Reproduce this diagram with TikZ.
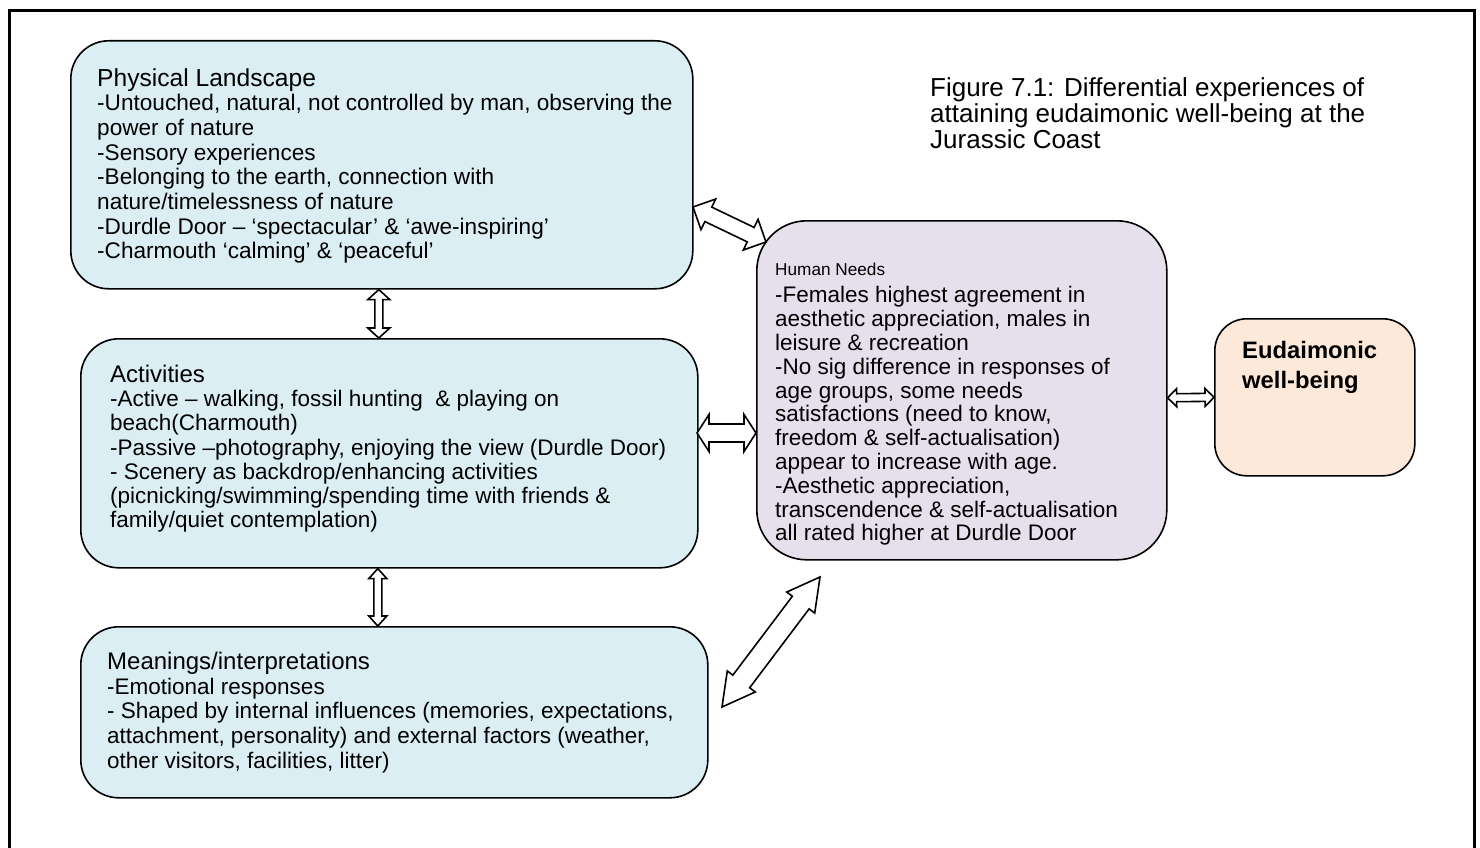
\documentclass[tikz,border=0pt]{standalone}
\usepackage{fontspec}
\setmainfont{Liberation Sans}
\usetikzlibrary{calc}

\definecolor{aquafill}{HTML}{DBEEF4}
\definecolor{lilacfill}{HTML}{E5E0EC}
\definecolor{peachfill}{HTML}{FDE9D9}

\tikzset{
  card/.style={draw=black, line width=1.6pt, rounded corners=#1, inner sep=0pt,
    anchor=north west},
  card/.default=38pt,
  cardtext/.style={anchor=north west, inner sep=0pt, align=left,
    font=\fontsize{22.5}{24.5}\selectfont},
  blockarrow/.style={draw=black, fill=white, line width=1.6pt, line join=miter},
}

% hollow double-headed block arrow between two named points
% #1,#2 ends, #3 shaft half width, #4 head half width, #5 head length
\newcommand\dblblock[5]{%
  \coordinate (hdA) at ($(#1)!#5!(#2)$);
  \coordinate (hdB) at ($(#2)!#5!(#1)$);
  \draw[blockarrow] (#1) -- ($(hdA)!#4!-90:(#2)$) -- ($(hdA)!#3!-90:(#2)$)
    -- ($(hdB)!#3!90:(#1)$) -- ($(hdB)!#4!90:(#1)$) -- (#2)
    -- ($(hdB)!#4!-90:(#1)$) -- ($(hdB)!#3!-90:(#1)$)
    -- ($(hdA)!#3!90:(#2)$) -- ($(hdA)!#4!90:(#2)$) -- cycle;}

\begin{document}
\begin{tikzpicture}[x=1pt, y=-1pt]
\useasboundingbox (0,0) rectangle (1480,848);

% outer frame (open at the bottom)
\draw[line width=3pt] (9.5,848) -- (9.5,11) -- (1474.5,11) -- (1474.5,848);

% boxes
\node[card, fill=aquafill, minimum width=622pt, minimum height=248pt] (pl) at (70,40) {};
\node[card, fill=aquafill, minimum width=617pt, minimum height=229pt] (act) at (80,338) {};
\node[card, fill=aquafill, minimum width=627pt, minimum height=171pt] (mean) at (80,626) {};
\node[card=50pt, fill=lilacfill, minimum width=410pt, minimum height=339pt] (hn) at (756,220) {};
\node[card=32pt, fill=peachfill, minimum width=200pt, minimum height=157pt] (eud) at (1214,318) {};

% box texts
\node[cardtext, font=\fontsize{22.6}{24.7}\selectfont] (plt) at (97,68)
  {{\fontsize{24.6}{24.7}\selectfont Physical Landscape}\\
   -Untouched, natural, not controlled by man, observing the\\
   power of nature\\
   -Sensory experiences\\
   -Belonging to the earth, connection with\\
   nature/timelessness of nature\\
   -Durdle Door – ‘spectacular’ \& ‘awe-inspiring’\\
   -Charmouth ‘calming’ \& ‘peaceful’};

\node[cardtext, font=\fontsize{22.5}{24.2}\selectfont] (actt) at (110,365)
  {{\fontsize{24}{24.2}\selectfont Activities}\\
   -Active – walking, fossil hunting\ \ \& playing on\\
   beach(Charmouth)\\
   -Passive –photography, enjoying the view (Durdle Door)\\
   - Scenery as backdrop/enhancing activities\\
   (picnicking/swimming/spending time with friends \&\\
   family/quiet contemplation)};

\node[cardtext, font=\fontsize{22.5}{24.7}\selectfont] (meant) at (107,652)
  {{\fontsize{24}{24.7}\selectfont Meanings/interpretations}\\
   -Emotional responses\\
   - Shaped by internal influences (memories, expectations,\\
   attachment, personality) and external factors (weather,\\
   other visitors, facilities, litter)};

\node[cardtext, font=\fontsize{22.5}{23.8}\selectfont] (hnt) at (775,263)
  {{\fontsize{17.2}{23.8}\selectfont Human Needs}\\[3.5pt]
   -Females highest agreement in\\
   aesthetic appreciation, males in\\
   leisure \& recreation\\
   -No sig difference in responses of\\
   age groups, some needs\\
   satisfactions (need to know,\\
   freedom \& self-actualisation)\\
   appear to increase with age.\\
   -Aesthetic appreciation,\\
   transcendence \& self-actualisation\\
   all rated higher at Durdle Door};

\node[cardtext, font=\bfseries\fontsize{23.8}{30}\selectfont] (eudt) at (1242,341)
  {Eudaimonic\\well-being};

% caption
\node[cardtext, font=\fontsize{26}{26}\selectfont] (title) at (930,77)
  {Figure 7.1: Differential experiences of\\
   attaining eudaimonic well-being at the\\
   Jurassic Coast};

% arrow end points on the box borders
\coordinate (plE) at (693,207);
\coordinate (hnNW) at (766,242);
\coordinate (plS) at ([xshift=-3pt]pl.south);
\coordinate (actN) at ([xshift=-10.5pt]act.north);
\coordinate (actE) at (697,433);
\coordinate (hnW) at (756,433);
\coordinate (actS) at ([xshift=-11.5pt]act.south);
\coordinate (meanN) at ([xshift=-16.5pt]mean.north);
\coordinate (meanE) at (722,707);
\coordinate (hnSW) at (820,577);
\coordinate (hnE) at ([yshift=-7.5pt]hn.east);

% connectors
\dblblock{plE}{hnNW}{8pt}{17pt}{17pt}
\dblblock{plS}{actN}{4pt}{11pt}{10pt}
\dblblock{actE}{hnW}{9pt}{18.5pt}{12pt}
\dblblock{actS}{meanN}{4pt}{9pt}{10pt}
\dblblock{meanE}{hnSW}{10.5pt}{17.5pt}{32pt}
\dblblock{hnE}{eud.west}{4pt}{9pt}{9pt}
\end{tikzpicture}
\end{document}
